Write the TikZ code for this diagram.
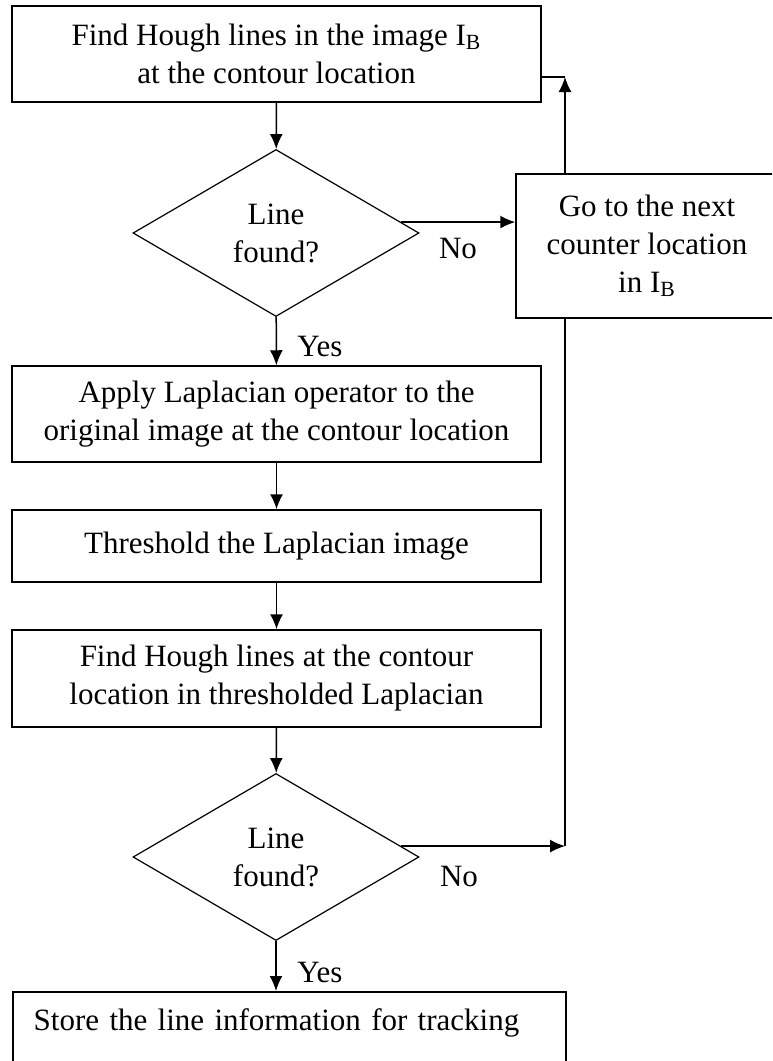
\documentclass[tikz,border=0pt]{standalone}
\usepackage{fontspec}
\setmainfont{Liberation Serif}
\usetikzlibrary{shapes.geometric}
\usetikzlibrary{arrows.meta}
\newcommand\ib{I\textsubscript{B}}
\newcommand\flowfont{\fontsize{15.5}{19}\selectfont}

\begin{document}
\begin{tikzpicture}[x=.5pt,y=-.5pt,line width=.75pt,>={Latex[length=7.5pt,width=6.5pt]}]%
        \useasboundingbox (0,0) rectangle (772,1061);%%
        \clip (0,0) rectangle (772,1061);%%
        \begin{scope}[shape=rectangle,inner sep=.05cm,fill=white,align=center]
        \tikzstyle{every node}=[draw,font=\flowfont] %%
        \node[minimum width=264.5pt,minimum height=48pt] (hough) at (276.5,54)  {Find Hough lines in the image \ib\\at the contour location}; %%
        \node[minimum width=264.5pt,minimum height=48pt] (lapl) at (276.5,414)  {Apply Laplacian operator to the\\original image at the contour location}; %%
        \node[minimum width=264.5pt,minimum height=36pt] (thresh) at (276.5,546)  {Threshold the Laplacian image}; %%
        \node[minimum width=264.5pt,minimum height=48.5pt] (hough2) at (276.5,678.5)  {Find Hough lines at the contour\\location in thresholded Laplacian}; %%
        \node[minimum width=131pt,minimum height=72pt] (next) at (647,246)  {Go to the next\\counter location\\in \ib}; %%
        \node[anchor=north west,inner xsep=10.5pt,inner ysep=0pt,text width=255.5pt,align=left,
              text height=19.5pt,text depth=30pt] (store) at (12,991)  {Store the line information for tracking}; %%
        \end{scope}%
        \begin{scope}[shape=diamond,inner sep=.02cm,minimum width=143pt,minimum height=83.5pt,align=center]
        \tikzstyle{every node}=[draw,line width=.6pt,font=\flowfont] %%
        \node (found1) at (276,233)  {Line\\found?}; %%
        \node (found2) at (276,857)  {Line\\found?}; %%
        \end{scope}
        \begin{scope}
        \tikzstyle{every node}=[font=\flowfont] %%
        \node (no1) at (458,248)  {No}; %%
        \node (yes1) at (320,346)  {Yes}; %%
        \node (no2) at (459,876)  {No}; %%
        \node (yes2) at (320,972)  {Yes}; %%
        \end{scope}
        \coordinate (up) at (565,77); %%
        \coordinate (back) at (found2.5 -| up); %%
        \draw[->] (hough)--(found1);  %%
        \draw[->] (found1)--(lapl);  %%
        \draw[->] (lapl)--(thresh);  %%
        \draw[->] (thresh)--(hough2);  %%
        \draw[->] (hough2)--(found2);  %%
        \draw[->] (found2.south)--(found2.south |- store.north);  %%
        \draw[->] (found1.5)--(found1.5 -| next.west);  %%
        \draw[->] (found2.5)--(back);  %%
        \draw (back)--(back |- next.south);  %%
        \draw[->] (up |- next.north)--(up);  %%
        \draw (up)--(up -| hough.east);  %%
        \end{tikzpicture}
\end{document}
